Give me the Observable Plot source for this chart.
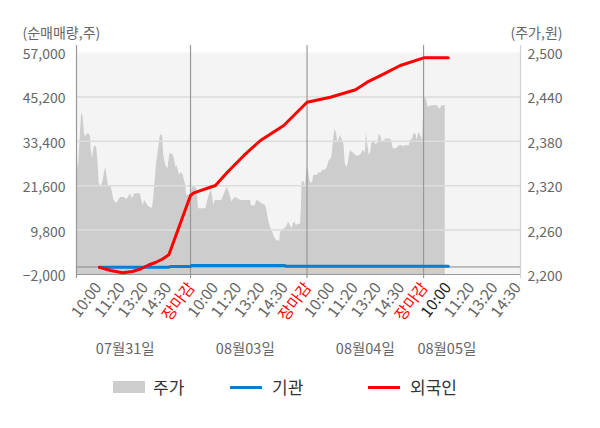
<!DOCTYPE html>
<html><head><meta charset="utf-8">
<script src="https://cdn.jsdelivr.net/npm/d3@7"></script>
<script src="https://cdn.jsdelivr.net/npm/@observablehq/plot@0.6"></script>
<style>
body{margin:0;background:#fff;font-family:"Noto Sans CJK KR","Noto Sans",sans-serif;}
#wrap{position:relative;width:600px;height:428px;overflow:hidden;}
#legend{position:absolute;left:0;top:365px;width:600px;height:45px;color:#333;font-size:17px;}
#legend .sw{position:absolute;}
#legend .lb{position:absolute;top:10px;line-height:24px;}
</style></head><body>
<div id="wrap"><div id="chart"></div>
<div id="legend">
  <div class="sw" style="left:113px;top:16px;width:32px;height:12px;background:#cdcdcd"></div>
  <div class="lb" style="left:153px">주가</div>
  <div class="sw" style="left:230px;top:21px;width:32px;height:3px;background:#0a7fd0"></div>
  <div class="lb" style="left:272px">기관</div>
  <div class="sw" style="left:368px;top:21px;width:32px;height:3px;background:#ff0000"></div>
  <div class="lb" style="left:410px">외국인</div>
</div></div>
<script>
// x positions are in "slot" units: each trading day spans 5 label slots
const tickLabels = ["10:00","11:20","13:20","14:30","장마감","10:00","11:20","13:20","14:30","장마감","10:00","11:20","13:20","14:30","장마감","10:00","11:20","13:20","14:30"];
const dateLabels = ["07월31일","08월03일","08월04일","08월05일"];
const datePos = [2.2, 7.35, 12.5, 16.0];
const dayBreaks = [5, 10, 15];
const leftTicks = [-2000, 9800, 21600, 33400, 45200, 57000];
const priceTicks = [2200, 2260, 2320, 2380, 2440, 2500];

// 주가 (price, 원)
const priceT = [0.107,0.19,0.25,0.33,0.39,0.45,0.51,0.57,0.65,0.71,0.74,0.79,0.85,0.91,0.97,1.02,1.08,1.17,1.25,1.31,1.36,1.42,1.48,1.60,1.65,1.71,1.79,1.85,1.91,2.00,2.17,2.25,2.34,2.42,2.51,2.60,2.85,2.91,2.97,3.03,3.11,3.20,3.31,3.37,3.42,3.48,3.54,3.60,3.66,
3.71,3.80,3.85,3.94,4.03,4.11,4.23,4.31,4.37,4.43,4.52,4.60,4.69,4.74,4.80,4.83,5.00,5.09,5.23,5.29,5.34,5.66,5.72,5.80,5.89,5.94,6.00,6.06,6.34,6.43,6.52,6.58,6.63,6.72,6.77,6.86,6.94,7.06,7.15,7.58,7.61,7.78,7.83,7.89,7.97,8.05,8.23,8.29,8.35,8.43,8.52,8.61,8.69,8.83,8.86,8.95,9.03,9.12,9.21,9.29,9.35,9.41,9.46,9.55,9.61,9.72,
9.75,9.79,9.89,9.92,10.01,10.06,10.12,10.18,10.24,10.29,10.44,10.49,10.61,10.67,10.78,10.87,10.95,11.04,11.09,11.15,11.21,11.27,11.32,11.38,11.44,11.52,11.58,11.64,11.70,11.75,11.81,11.87,11.95,12.04,12.12,12.24,12.33,12.41,12.50,12.55,12.61,12.67,12.73,12.78,12.87,12.95,13.04,13.10,13.15,13.21,13.27,13.36,13.38,13.58,13.64,13.70,13.84,13.90,13.96,14.10,14.15,14.21,14.39,14.44,14.53,14.58,14.67,14.73,14.79,14.84,14.90,14.96,15.01,15.07,15.13,15.18,15.24,15.33,15.61,15.67,15.73,15.79,15.93];
const priceV = [2372,2341,2377,2419,2413,2390,2386,2390,2390,2386,2368,2356,2370,2374,2372,2356,2323,2318,2327,2338,2345,2332,2320,2318,2311,2300,2298,2296,2300,2304,2304,2301,2304,2309,2302,2309,2309,2300,2293,2300,2296,2292,2290,2290,2304,2325,2350,2363,2377,
2389,2388,2361,2347,2343,2363,2363,2356,2345,2347,2334,2338,2334,2327,2320,2307,2307,2318,2318,2314,2289,2289,2298,2307,2314,2307,2293,2300,2300,2307,2314,2318,2314,2304,2298,2302,2304,2302,2300,2300,2293,2293,2299,2300,2298,2296,2293,2284,2273,2264,2257,2250,2246,2245,2257,2259,2262,2264,2271,2266,2262,2268,2271,2266,2268,2268,
2286,2325,2325,2318,2345,2341,2327,2323,2325,2334,2334,2337,2337,2341,2341,2345,2354,2356,2365,2386,2397,2390,2379,2383,2388,2381,2377,2350,2345,2347,2359,2368,2365,2363,2360,2360,2363,2368,2364,2392,2374,2361,2365,2377,2379,2376,2377,2390,2388,2381,2379,2382,2383,2383,2379,2370,2370,2372,2374,2374,2372,2374,2374,2381,2383,2390,2390,2381,2392,2390,2386,2381,2426,2442,2437,2428,2426,2428,2428,2424,2424,2428,2428];

// 외국인 (foreign net buying, 주)
const foreignT = [1.09,1.57,2.08,2.51,2.85,3.20,3.50,3.80,4.07,5.00,5.14,6.07,6.58,7.29,8.00,9.00,10.00,11.00,12.08,12.58,13.30,14.00,15.01,16.06];
const foreignV = [-100,-940,-1550,-1200,-540,520,1190,2120,3240,19000,19710,21650,25190,29630,33610,37600,43790,45120,47090,49110,51340,53550,55590,55590];

// 기관 (institutional net buying, 주)
const instT = [1.09,4.07,4.15,5.00,5.05,9.05,9.10,16.06];
const instV = [-50,-50,130,130,400,400,200,200];

const xDomain = [0.107, 19.16];
const toLeft = p => -2000 + (p - 2200) / 300 * 59000;
const toPrice = v => 2200 + (v + 2000) / 59000 * 300;

const price = priceT.map((t, i) => ({t, y: toLeft(priceV[i])}));
const foreign = foreignT.map((t, i) => ({t, v: foreignV[i]}));
const inst = instT.map((t, i) => ({t, v: instV[i]}));
const ticks = tickLabels.map((label, i) => ({t: i + 1, label, kind: label === "장마감" ? "close" : (i === 15 ? "today" : "normal")}));
const dates = dateLabels.map((label, i) => ({t: datePos[i], label}));

const fmt = d3.format(",");
const tickText = (kind, fill) => Plot.text(ticks.filter(d => d.kind === kind), {
  x: "t", text: "label", frameAnchor: "bottom", rotate: -53, textAnchor: "end",
  dx: 5, dy: 13, fill, fontSize: 15.5
});

const chart = Plot.plot({
  width: 600, height: 365,
  marginLeft: 76, marginRight: 80, marginTop: 52, marginBottom: 91,
  style: {fontFamily: '"Noto Sans CJK KR","Noto Sans",sans-serif', fontSize: "14px", background: "transparent"},
  x: {domain: xDomain, axis: null},
  y: {domain: [-2000, 57000], axis: null},
  marks: [
    Plot.frame({fill: "#f4f4f4", stroke: "none"}),
    Plot.areaY(price, {x: "t", y1: -2000, y2: "y", fill: "#cdcdcd"}),
    Plot.ruleY(leftTicks.slice(1, 5), {stroke: "#dddddd", strokeWidth: 1.5}),
    Plot.ruleX(dayBreaks, {stroke: "#999", strokeWidth: 1.2, insetTop: -7, insetBottom: -4}),
    Plot.ruleX([xDomain[0]], {stroke: "#999", strokeWidth: 1.2, insetTop: -7, insetBottom: -4}),
    Plot.ruleX([xDomain[1]], {stroke: "#d0d0d0", strokeWidth: 1.2, insetTop: -7, insetBottom: -4}),
    Plot.ruleY([0], {stroke: "#888"}),
    Plot.ruleY([-2000], {stroke: "#999", strokeWidth: 1.2}),
    Plot.line(inst, {x: "t", y: "v", stroke: "#0a7fd0", strokeWidth: 3}),
    Plot.line(foreign, {x: "t", y: "v", stroke: "#ff0000", strokeWidth: 3}),
    Plot.axisY({ticks: leftTicks, tickFormat: fmt, tickSize: 0, tickPadding: 11, dy: 2, fill: "#666", fontSize: 14, label: null}),
    Plot.axisY({anchor: "right", ticks: leftTicks, tickFormat: d => fmt(Math.round(toPrice(d))), tickSize: 0, tickPadding: 7, dy: 2, fill: "#666", fontSize: 14, label: null}),
    Plot.text(["(순매매량,주)"], {frameAnchor: "top-left", dx: -54, dy: -24, textAnchor: "start", fill: "#666", fontSize: 14}),
    Plot.text(["(주가,원)"], {frameAnchor: "top-right", dx: 42, dy: -24, textAnchor: "end", fill: "#666", fontSize: 14}),
    tickText("normal", "#666"),
    tickText("close", "#ff0000"),
    tickText("today", "#222"),
    Plot.text(dates, {x: "t", text: "label", frameAnchor: "bottom", dy: 79, fill: "#666", fontSize: 14.5})
  ]
});
document.getElementById("chart").appendChild(chart);
</script></body></html>
